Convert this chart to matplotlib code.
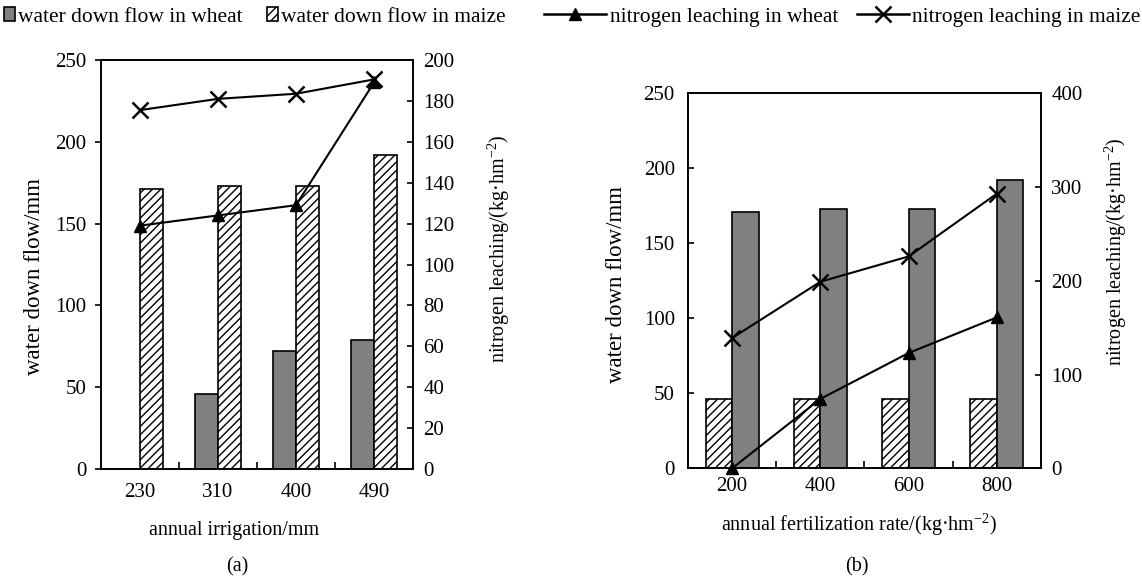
import matplotlib
matplotlib.use("Agg")
import matplotlib.pyplot as plt
import numpy as np
from matplotlib.patches import Patch
from matplotlib.lines import Line2D

# ---- data ----
irrigation = ['230', '310', '400', '490']
a_wheat_flow = [0, 46, 72, 79]
a_maize_flow = [171, 173, 173, 192]
a_wheat_N = [119, 124, 129, 189]
a_maize_N = [175.5, 181, 183.5, 190.5]

fertilization = ['200', '400', '600', '800']
b_wheat_flow = [171, 173, 173, 192]
b_maize_flow = [46, 46, 46, 46]
b_wheat_N = [0, 74, 123, 161]
b_maize_N = [139, 199, 226, 293]

plt.rcParams['font.family'] = ['Liberation Serif', 'DejaVu Serif']
plt.rcParams['mathtext.fontset'] = 'custom'
plt.rcParams['mathtext.rm'] = 'Liberation Serif'
plt.rcParams['mathtext.it'] = 'Liberation Serif:italic'
plt.rcParams['hatch.linewidth'] = 1.0
FS = 14.5
TFS = 15
LFS = 16.5

GRAY = '#808080'
W, H = 1142, 579
fig = plt.figure(figsize=(W / 100, H / 100), dpi=100)


def axrect(l, t, r, b):
    return [l / W, 1 - b / H, (r - l) / W, (b - t) / H]


def style(ax, ax2, left_dir, xpad):
    for a in (ax, ax2):
        for s in a.spines.values():
            s.set_linewidth(1.2)
    ax.set_xlim(0, 4)
    ax.set_xticks(np.arange(4) + 0.5)
    ax.set_xticks([1, 2, 3], minor=True)
    ax.tick_params(axis='x', which='major', length=0, pad=xpad, labelsize=TFS)
    ax.tick_params(axis='x', which='minor', length=5, width=1.2, direction='in')
    ax.tick_params(axis='y', direction=left_dir, length=4, width=1.2, labelsize=TFS,
                   pad=6.5 if left_dir == 'out' else 9.5)
    ax2.tick_params(axis='y', direction='in', length=4, width=1.2, labelsize=TFS, pad=7.5)


# ---- panel (a) ----
ax = fig.add_axes(axrect(101, 60, 413, 469))
ax2 = ax.twinx()
x = np.arange(len(irrigation)) + 0.5
bw = 0.3
ax.bar(x, a_wheat_flow, width=-bw, align='edge', color=GRAY, edgecolor='black', linewidth=1.2)
ax.bar(x, a_maize_flow, width=bw, align='edge', color='white', edgecolor='black',
       hatch='////', linewidth=1.2)
ax.set_ylim(0, 250)
ax.set_yticks(np.arange(0, 251, 50))
ax.set_xticklabels(irrigation)
ax2.plot(x, a_wheat_N, color='black', lw=1.5, marker='^', ms=9, clip_on=False)
ax2.plot(x, a_maize_N, color='black', lw=1.5, marker='x', ms=11, mew=1.8, clip_on=False)
ax2.set_ylim(0, 200)
ax2.set_yticks(np.arange(0, 201, 20))
style(ax, ax2, 'out', 10)
ax.set_ylabel('water down flow/mm', fontsize=LFS)
ax.yaxis.set_label_coords(-0.18, 0.47)
ax2.set_ylabel('nitrogen leaching/(kg·hm$^{-2}$)', fontsize=FS)
ax2.yaxis.set_label_coords(1.234, 0.538)
fig.text(234 / W, 1 - 530 / H, 'annual irrigation/mm', ha='center', va='center', fontsize=FS)
fig.text(237 / W, 1 - 567 / H, '(a)', ha='center', va='center', fontsize=FS)

# ---- panel (b) ----
bx = fig.add_axes(axrect(688, 93.3, 1041, 468.3))
bx2 = bx.twinx()
xb = np.arange(len(fertilization)) + 0.5
bx.bar(xb, b_maize_flow, width=-bw, align='edge', color='white', edgecolor='black',
       hatch='////', linewidth=1.2)
bx.bar(xb, b_wheat_flow, width=bw, align='edge', color=GRAY, edgecolor='black', linewidth=1.2)
bx.set_ylim(0, 250)
bx.set_yticks(np.arange(0, 251, 50))
bx.set_xticklabels(fertilization)
bx2.plot(xb, b_wheat_N, color='black', lw=1.5, marker='^', ms=9, clip_on=False)
bx2.plot(xb, b_maize_N, color='black', lw=1.5, marker='x', ms=11, mew=1.8, clip_on=False)
bx2.set_ylim(0, 400)
bx2.set_yticks(np.arange(0, 401, 100))
style(bx, bx2, 'in', 6.5)
bx.set_ylabel('water down flow/mm', fontsize=LFS)
bx.yaxis.set_label_coords(-0.172, 0.49)
bx2.set_ylabel('nitrogen leaching/(kg·hm$^{-2}$)', fontsize=FS)
bx2.yaxis.set_label_coords(1.176, 0.577)
fig.text(859 / W, 1 - 525 / H, 'annual fertilization rate/(kg·hm$^{-2}$)', ha='center',
         va='center', fontsize=FS)
fig.text(857 / W, 1 - 567 / H, '(b)', ha='center', va='center', fontsize=FS)

# ---- legend (four single entries placed along the top) ----
legend_items = [
    (Patch(facecolor=GRAY, edgecolor='black', linewidth=1.2), 'water down flow in wheat', 4, 0.5),
    (Patch(facecolor='white', edgecolor='black', hatch='////', linewidth=1.2),
     'water down flow in maize', 267, 0.5),
    (Line2D([], [], color='black', lw=1.8, marker='^', ms=9), 'nitrogen leaching in wheat', 544, 2.9),
    (Line2D([], [], color='black', lw=1.8, marker='x', ms=11, mew=1.8), 'nitrogen leaching in maize', 857, 2.4),
]
for h, lab, xpix, hl in legend_items:
    fig.legend([h], [lab], loc='center left', bbox_to_anchor=(xpix / W, 1 - 17 / H),
               frameon=False, fontsize=15.5, handlelength=hl, handleheight=0.6,
               handletextpad=0.15, borderpad=0, borderaxespad=0)

fig.savefig('out.png', dpi=100)
